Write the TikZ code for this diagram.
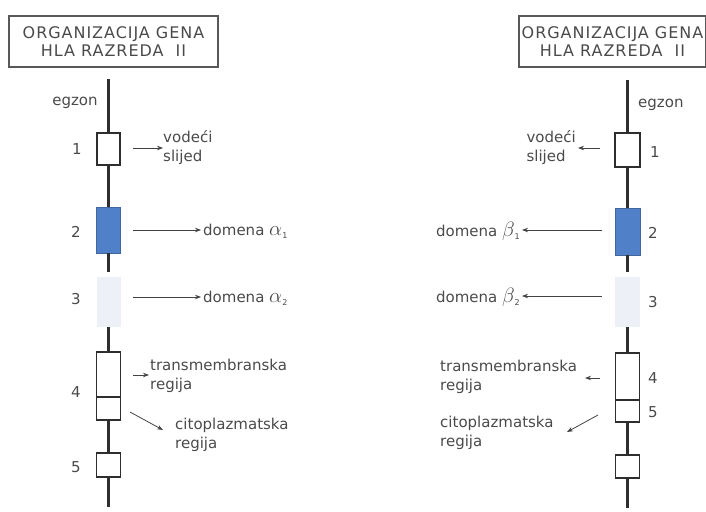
\documentclass[tikz,border=0pt]{standalone}
\usepackage{fontspec}
\setmainfont{DejaVu Sans}
\usetikzlibrary{arrows.meta}
\definecolor{txt}{HTML}{4A4A4A}
\definecolor{ln}{HTML}{2E2E2E}
\definecolor{exblue}{HTML}{5080C8}
\definecolor{exlight}{HTML}{EEF0F7}
\newcommand{\grk}[2]{{\fontsize{20}{19}\selectfont$#1$}\raisebox{-3pt}{\fontsize{8}{8}\selectfont #2}}
\tikzset{
  every node/.style={font=\fontsize{15}{19}\selectfont, text=txt},
  titlebox/.style={draw=ln!80, line width=1.3pt, minimum width=209pt, minimum height=51pt, align=center, inner sep=0pt, font=\fontsize{16}{18}\selectfont\addfontfeature{LetterSpace=6}},
  exon/.style={draw=ln, line width=1.3pt, fill=white, inner sep=0pt},
  blueexon/.style={draw=exblue!80!black, line width=0.8pt, fill=exblue, inner sep=0pt},
  lightexon/.style={draw=none, fill=exlight, inner sep=0pt},
  gene/.style={ln, line width=2.4pt},
  num/.style={inner sep=0pt},
  lbl/.style={inner sep=0pt, align=left},
  pointer/.style={ln!90, line width=0.8pt, -{Stealth[length=6pt,width=4.5pt]}},
}
\begin{document}
\begin{tikzpicture}[x=1pt,y=-1pt]
\useasboundingbox (0,0) rectangle (706,511);
% ---------------- left panel ----------------
\node[titlebox] (titleL) at (113.5,41.5) {ORGANIZACIJA GENA\\HLA RAZREDA\ \ II};
\coordinate (topL) at (108.5,79);
\coordinate (botL) at (108.5,507);
\node[exon, minimum width=23pt, minimum height=32pt] (e1L) at (108.5,149) {};
\node[blueexon, minimum width=24pt, minimum height=46pt] (e2L) at (108.5,230) {};
\node[lightexon, minimum width=24pt, minimum height=50pt] (e3L) at (108.5,302) {};
\node[exon, minimum width=24pt, minimum height=68pt] (e4L) at (108.5,386) {};
\node[exon, minimum width=24pt, minimum height=24pt] (e5L) at (108.5,465) {};
\draw[gene] (topL) -- (e1L.north);
\draw[gene] (e1L.south) -- (e2L.north);
\draw[gene] (e2L.south) -- ([yshift=5pt]e3L.north);
\draw[gene] (e3L.south) -- (e4L.north);
\draw[gene] (e4L.south) -- (e5L.north);
\draw[gene] (e5L.south) -- (botL);
\coordinate (d4L) at (108.5,397);
\draw[ln, line width=1.3pt] (e4L.west |- d4L) -- (e4L.east |- d4L);

\node[lbl] (egL) at (75,103) {egzon};
\node[num] (n1L) at (77,149) {1};
\node[num] (n2L) at (76,232) {2};
\node[num] (n3L) at (76,299) {3};
\node[num] (n4L) at (76,392) {4};
\node[num] (n5L) at (76,467) {5};

\node[lbl, anchor=west] (vsL) at (163,148) {vodeći\\slijed};
\node[lbl, anchor=west] (a1L) at (203,231) {domena \grk{\alpha}{1}};
\node[lbl, anchor=west] (a2L) at (203,298) {domena \grk{\alpha}{2}};
\node[lbl, anchor=west] (tmL) at (150,376) {transmembranska\\regija};
\node[lbl, anchor=west] (cpL) at (175,435) {citoplazmatska\\regija};

\coordinate (s1L) at (133,148);
\coordinate (s2L) at (133,230);
\coordinate (s3L) at (133,297);
\coordinate (s4L) at (133,375);
\coordinate (s5L) at (130,412);
\draw[pointer] (s1L) -- (vsL.west |- s1L);
\draw[pointer] (s2L) -- ([xshift=-2pt]a1L.west |- s2L);
\draw[pointer] (s3L) -- ([xshift=-2pt]a2L.west |- s3L);
\draw[pointer] (s4L) -- ([xshift=-1pt]tmL.west |- s4L);
\draw[pointer] (s5L) -- (163,430);

% ---------------- right panel ----------------
\node[titlebox, minimum width=187pt] (titleR) at (612.5,41.5) {ORGANIZACIJA GENA\\HLA RAZREDA\ \ II};
\coordinate (topR) at (627.5,80);
\coordinate (botR) at (627.5,508);
\node[exon, minimum width=25pt, minimum height=34pt] (e1R) at (627.5,150) {};
\node[blueexon, minimum width=25pt, minimum height=47pt] (e2R) at (627.5,231.5) {};
\node[lightexon, minimum width=25pt, minimum height=50pt] (e3R) at (627.5,302) {};
\node[exon, minimum width=24pt, minimum height=69pt] (e4R) at (627.5,387.5) {};
\node[exon, minimum width=24pt, minimum height=23pt] (e5R) at (627.5,466.5) {};
\draw[gene] (topR) -- (e1R.north);
\draw[gene] (e1R.south) -- (e2R.north);
\draw[gene] (e2R.south) -- ([yshift=5pt]e3R.north);
\draw[gene] (e3R.south) -- (e4R.north);
\draw[gene] (e4R.south) -- (e5R.north);
\draw[gene] (e5R.south) -- (botR);
\coordinate (d4R) at (627.5,400);
\draw[ln, line width=1.3pt] (e4R.west |- d4R) -- (e4R.east |- d4R);

\node[lbl, anchor=west] (egR) at (638,105) {egzon};
\node[num] (n1R) at (655,152) {1};
\node[num] (n2R) at (653,233) {2};
\node[num] (n3R) at (653,302) {3};
\node[num] (n4R) at (653,378) {4};
\node[num] (n5R) at (653,412) {5};

\node[lbl, anchor=east] (vsR) at (576,148) {vodeći\\slijed};
\node[lbl, anchor=east] (b1R) at (520,231) {domena \grk{\beta}{1}};
\node[lbl, anchor=east] (b2R) at (520,297) {domena \grk{\beta}{2}};
\node[lbl, anchor=west] (tmR) at (440,377) {transmembranska\\regija};
\node[lbl, anchor=west] (cpR) at (440,433) {citoplazmatska\\regija};

\coordinate (s1R) at (600,148);
\coordinate (s2R) at (602,230);
\coordinate (s3R) at (602,296);
\coordinate (s4R) at (600,378);
\coordinate (s5R) at (598,415);
\draw[pointer] (s1R) -- ([xshift=2pt]vsR.east |- s1R);
\draw[pointer] (s2R) -- ([xshift=2pt]b1R.east |- s2R);
\draw[pointer] (s3R) -- ([xshift=2pt]b2R.east |- s3R);
\draw[pointer] (s4R) -- (585,378);
\draw[pointer] (s5R) -- (567,432);
\end{tikzpicture}
\end{document}
